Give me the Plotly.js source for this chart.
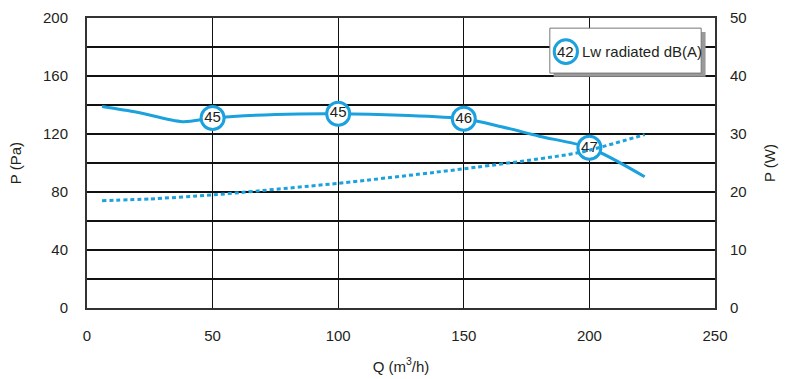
<!DOCTYPE html>
<html><head><meta charset="utf-8">
<script src="https://cdn.plot.ly/plotly-3.0.1.min.js"></script>
<style>html,body{margin:0;padding:0;background:#fff}#chart{width:787px;height:379px}</style>
</head><body><div id="chart"></div>
<script>
// Pressure curve (Pa) vs airflow Q (m3/h)
const pressureQ = [6, 20, 38, 50, 75, 100, 125, 150, 165, 180, 200, 222];
const pressureP = [139, 135, 128.5, 131, 133.5, 134, 133, 130.5, 125, 118.5, 110.5, 90.5];
// Power curve (W) vs Q
const powerQ = [6, 25, 50, 100, 150, 196, 222];
const powerW = [18.5, 18.8, 19.5, 21.5, 24, 26.8, 29.9];
// Noise labels on the pressure curve
const noiseQ = [50, 100, 150, 200];
const noiseLabels = ['45', '45', '46', '47'];
const legendLabel = '42';
const legendText = 'Lw radiated dB(A)';

const blue = '#1ba1dd';
const ink = '#231f20';
const noiseP = noiseQ.map(q => pressureP[pressureQ.indexOf(q)]);

const traces = [
  {x: pressureQ, y: pressureP, mode: 'lines', line: {color: blue, width: 3, shape: 'spline', smoothing: 0.8}, hoverinfo: 'skip'},
  {x: powerQ, y: powerW, yaxis: 'y2', mode: 'lines', line: {color: blue, width: 3, dash: '4px,3px', shape: 'spline', smoothing: 0.6}, hoverinfo: 'skip'},
  {x: noiseQ, y: noiseP, mode: 'markers+text', text: noiseLabels, textposition: 'middle center',
   textfont: {family: 'Liberation Sans, Arial, sans-serif', size: 15, color: ink},
   marker: {symbol: 'circle', size: 23, color: '#fff', line: {color: blue, width: 3}}, cliponaxis: false, hoverinfo: 'skip'}
];

const font = {family: 'Liberation Sans, Arial, sans-serif', size: 15, color: ink};
const layout = {
  width: 787, height: 379,
  margin: {l: 87, r: 72, t: 18, b: 71},
  paper_bgcolor: '#fff', plot_bgcolor: '#fff',
  showlegend: false,
  font: font,
  xaxis: {range: [0, 250], dtick: 50, tick0: 0, showgrid: true, gridcolor: '#111', gridwidth: 1.4,
          zeroline: false, showline: true, linecolor: '#333', linewidth: 2, mirror: true,
          ticks: '', ticklabelstandoff: 13, tickfont: font,
          title: {text: 'Q (m<sup>3</sup>/h)', font: font, standoff: 18}},
  yaxis: {range: [0, 200], dtick: 40, tick0: 0, showgrid: true, gridcolor: '#111', gridwidth: 1.4,
          minor: {dtick: 20, showgrid: true, gridcolor: '#111', gridwidth: 1.4},
          zeroline: false, showline: true, linecolor: '#333', linewidth: 2, mirror: true,
          ticks: '', ticklabelstandoff: 14, tickfont: font,
          title: {text: 'P (Pa)', font: font, standoff: 18}},
  yaxis2: {range: [0, 50], dtick: 10, overlaying: 'y', side: 'right', showgrid: false, zeroline: false,
           ticks: '', ticklabelstandoff: 14, tickfont: font,
           title: {text: 'P (W)', font: font, standoff: 18}},
  shapes: [
    {type: 'rect', xref: 'paper', yref: 'paper', x0: 0.743, x1: 0.985, y0: 0.797, y1: 0.952, fillcolor: '#9a9a9a', line: {width: 0}},
    {type: 'rect', xref: 'paper', yref: 'paper', x0: 0.737, x1: 0.978, y0: 0.810, y1: 0.965, fillcolor: '#fff', line: {color: '#777', width: 1}},
    {type: 'circle', xref: 'paper', yref: 'paper', x0: 0.744, x1: 0.781, y0: 0.843, y1: 0.925, fillcolor: '#fff', line: {color: blue, width: 3}}
  ],
  annotations: [
    {xref: 'paper', yref: 'paper', x: 0.7625, y: 0.884, text: legendLabel, showarrow: false, font: font, xanchor: 'center', yanchor: 'middle'},
    {xref: 'paper', yref: 'paper', x: 0.785, y: 0.884, text: legendText, showarrow: false, font: font, xanchor: 'left', yanchor: 'middle'}
  ]
};
Plotly.newPlot('chart', traces, layout, {displayModeBar: false, staticPlot: true});
</script></body></html>
